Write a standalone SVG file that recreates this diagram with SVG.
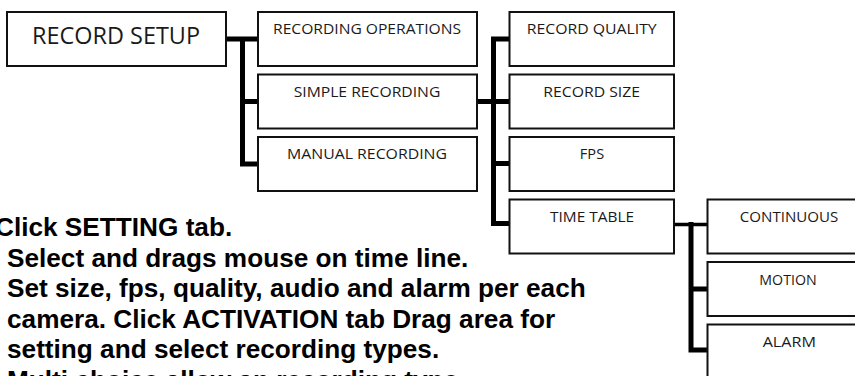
<svg xmlns="http://www.w3.org/2000/svg" width="855" height="376" viewBox="0 0 855 376">
<style>
.box{fill:#fff;stroke:#111;stroke-width:2}
.lbl{font-family:"Open Sans","Noto Sans","DejaVu Sans",sans-serif;font-size:15px;fill:#1a1a1a;text-anchor:middle}
.big{font-size:23.5px}
.con{fill:none;stroke:#000;stroke-width:5}
.thin{stroke-width:3.5}
.note{font-family:"Liberation Sans",Arial,sans-serif;font-weight:bold;font-size:26.2px;fill:#000}
</style>
<rect width="855" height="376" fill="#fff"/>
<g id="connectors">
<path class="con" d="M224,39 H260 M242.5,36.5 V166.5 M242.5,101.5 H260 M242.5,164 H260"/>
<path class="con" d="M475,101.5 H511 M493.5,36.5 V226 M493.5,39 H511 M493.5,163.5 H511 M493.5,223.5 H511"/>
<path class="con thin" d="M672,224.5 H709"/>
<path class="con" d="M691,222 V352.5 M691,289 H709 M691,350 H709"/>
</g>
<g id="n-record-setup"><rect class="box" x="7" y="12" width="219" height="54"/><text class="lbl big" x="116" y="44" textLength="168" lengthAdjust="spacingAndGlyphs">RECORD SETUP</text></g>
<g id="n-recording-operations"><rect class="box" x="258" y="12" width="219" height="54"/><text class="lbl" x="367" y="34" textLength="188" lengthAdjust="spacingAndGlyphs">RECORDING OPERATIONS</text></g>
<g id="n-simple-recording"><rect class="box" x="258" y="74.5" width="219" height="54"/><text class="lbl" x="367" y="96.7" textLength="146.7" lengthAdjust="spacingAndGlyphs">SIMPLE RECORDING</text></g>
<g id="n-manual-recording"><rect class="box" x="258" y="137" width="219" height="54"/><text class="lbl" x="367" y="159.3" textLength="160" lengthAdjust="spacingAndGlyphs">MANUAL RECORDING</text></g>
<g id="n-record-quality"><rect class="box" x="509.5" y="12" width="164.5" height="54"/><text class="lbl" x="591.7" y="34" textLength="130" lengthAdjust="spacingAndGlyphs">RECORD QUALITY</text></g>
<g id="n-record-size"><rect class="box" x="509.5" y="74.5" width="164.5" height="54"/><text class="lbl" x="591.7" y="96.7" textLength="96.7" lengthAdjust="spacingAndGlyphs">RECORD SIZE</text></g>
<g id="n-fps"><rect class="box" x="509.5" y="137" width="164.5" height="54"/><text class="lbl" x="592" y="158.5" textLength="24.3" lengthAdjust="spacingAndGlyphs">FPS</text></g>
<g id="n-time-table"><rect class="box" x="509.5" y="199.5" width="164.5" height="54"/><text class="lbl" x="592" y="221.7" textLength="84" lengthAdjust="spacingAndGlyphs">TIME TABLE</text></g>
<g id="n-continuous"><rect class="box" x="707.5" y="199.5" width="165" height="54"/><text class="lbl" x="789" y="222.3" textLength="98.3" lengthAdjust="spacingAndGlyphs">CONTINUOUS</text></g>
<g id="n-motion"><rect class="box" x="707.5" y="262" width="165" height="54"/><text class="lbl" x="788" y="285" textLength="57.3" lengthAdjust="spacingAndGlyphs">MOTION</text></g>
<g id="n-alarm"><rect class="box" x="707.5" y="324.5" width="165" height="54"/><text class="lbl" x="789.3" y="346.7" textLength="53.3" lengthAdjust="spacingAndGlyphs">ALARM</text></g>
<g id="notes">
<text class="note" x="-5" y="236">Click SETTING tab.</text>
<text class="note" x="7" y="266.6">Select and drags mouse on time line.</text>
<text class="note" x="7" y="297.2">Set size, fps, quality, audio and alarm per each</text>
<text class="note" x="7" y="327.8">camera. Click ACTIVATION tab Drag area for</text>
<text class="note" x="7" y="358.4">setting and select recording types.</text>
<text class="note" x="7" y="389">Multi choice allow an recording type</text>
</g>
</svg>
